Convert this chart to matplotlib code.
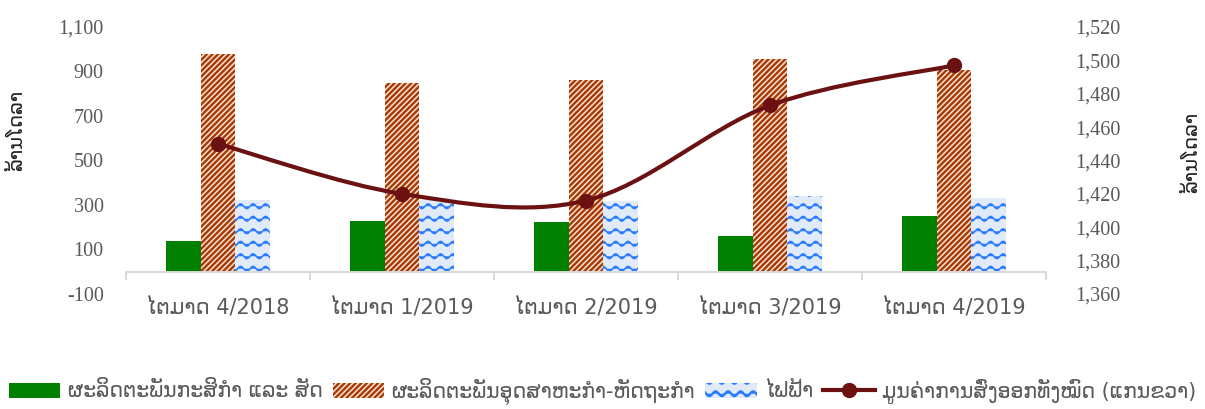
import warnings
import numpy as np
import matplotlib
matplotlib.use('Agg')
import matplotlib.pyplot as plt
import matplotlib.hatch as mhatch
from matplotlib.path import Path
from matplotlib.patches import PathPatch, Patch
from matplotlib.lines import Line2D
from matplotlib.ticker import FuncFormatter, FixedLocator

warnings.filterwarnings('ignore')

# data (millions USD)
quarters = ['ໄຕມາດ 4/2018', 'ໄຕມາດ 1/2019', 'ໄຕມາດ 2/2019', 'ໄຕມາດ 3/2019', 'ໄຕມາດ 4/2019']
agri = [138, 227, 222, 162, 249]
industry = [978, 848, 860, 958, 906]
electricity = [322, 322, 318, 340, 332]
exports_total = [1450, 1420, 1416, 1473, 1497]

series_names = ['ຜະລິດຕະພັນກະສິກຳ ແລະ ສັດ',
                'ຜະລິດຕະພັນອຸດສາຫະກຳ-ຫັດຖະກຳ',
                'ໄຟຟ້າ',
                'ມູນຄ່າການສົ່ງອອກທັງໝົດ (ແກນຂວາ)']
unit_label = 'ລ້ານໂດລາ'

GREY = '#595959'
LINE_C = '#6b1111'
GREEN = '#008000'
STRIPE_BG, STRIPE_FG = '#f8e1d8', '#a83a00'
WAVE_BG, WAVE_FG = '#e0eaf8', '#2a7bff'


# Excel-like "wave" fill pattern, registered as hatch '~'
class WaveHatch(mhatch.HatchPatternBase):
    def __init__(self, hatch, density):
        self.num_rows = hatch.count('~') * 8
        self.steps = 96
        self.num_vertices = self.num_rows * (self.steps + 1)

    def set_vertices_and_codes(self, vertices, codes):
        t = np.linspace(0, 1, self.steps + 1)
        for i in range(self.num_rows):
            s = slice(i * (self.steps + 1), (i + 1) * (self.steps + 1))
            vertices[s, 0] = t
            vertices[s, 1] = (i + 0.5) / self.num_rows + 0.024 * np.sin(2 * np.pi * 8 * t)
            codes[s] = Path.LINETO
            codes[i * (self.steps + 1)] = Path.MOVETO


mhatch._hatch_types.append(WaveHatch)

plt.rcParams['font.family'] = ['DejaVu Sans']
plt.rcParams['hatch.linewidth'] = 1.7


def thin_waves(patches):
    for p in patches:
        if hasattr(p, 'set_hatch_linewidth'):
            p.set_hatch_linewidth(1.1)


fig = plt.figure(figsize=(12.05, 4.09), dpi=100)
ax = fig.add_axes([126 / 1205, 115 / 409, 920 / 1205, 267 / 409])
ax2 = ax.twinx()

x = np.arange(len(quarters))
w = 0.19
ax.bar(x - w, agri, w, color=GREEN, zorder=2)
ax.bar(x, industry, w, facecolor=STRIPE_BG, edgecolor=STRIPE_FG, linewidth=0,
       hatch='//////', zorder=2)
wave_bars = ax.bar(x + w, electricity, w, facecolor=WAVE_BG, edgecolor=WAVE_FG, linewidth=0,
                   hatch='~', zorder=2)
thin_waves(wave_bars)

# smoothed line (Excel style bezier through the points)
pts = np.column_stack([x.astype(float), np.array(exports_total, float)])
n = len(pts)
verts = [pts[0]]
codes = [Path.MOVETO]
for i in range(n - 1):
    p0, p1 = pts[max(i - 1, 0)], pts[i]
    p2, p3 = pts[i + 1], pts[min(i + 2, n - 1)]
    verts += [p1 + (p2 - p0) / 6, p2 - (p3 - p1) / 6, p2]
    codes += [Path.CURVE4] * 3
ax2.add_patch(PathPatch(Path(verts, codes), facecolor='none', edgecolor=LINE_C,
                        lw=3, capstyle='round', zorder=3))
ax2.plot(x, exports_total, 'o', color=LINE_C, ms=10, zorder=4)

# axes setup
ax.set_xlim(-0.5, len(quarters) - 0.5)
ax.set_ylim(-100, 1100)
ax.set_yticks(range(-100, 1101, 200))
ax2.set_ylim(1360, 1520)
ax2.set_yticks(range(1360, 1521, 20))
fmt = FuncFormatter(lambda v, p: f'{v:,.0f}')
ax.yaxis.set_major_formatter(fmt)
ax2.yaxis.set_major_formatter(fmt)

for a in (ax, ax2):
    for s in a.spines.values():
        s.set_visible(False)
ax.spines['bottom'].set_visible(True)
ax.spines['bottom'].set_position(('data', 0))
ax.spines['bottom'].set_color('#d9d9d9')
ax.spines['bottom'].set_linewidth(1.4)

ax.set_xticks(x)
ax.set_xticklabels(quarters)
ax.xaxis.set_minor_locator(FixedLocator(np.arange(-0.5, len(quarters), 1.0)))
ax.tick_params(axis='x', which='major', length=0, pad=18, labelsize=15, labelcolor=GREY)
ax.tick_params(axis='x', which='minor', length=6, width=1.4, color='#d9d9d9', direction='out')

ax.tick_params(axis='y', length=0, pad=16, labelsize=14.5, labelcolor=GREY)
ax2.tick_params(axis='y', length=0, pad=21, labelsize=14.5, labelcolor=GREY)
for lab in ax.get_yticklabels() + ax2.get_yticklabels():
    lab.set_fontfamily('Liberation Serif')

fig.text(17 / 1205, 1 - 130 / 409, unit_label, rotation=90, ha='center', va='center',
         fontsize=14, color='#222222')
fig.text(1192 / 1205, 1 - 152 / 409, unit_label, rotation=90, ha='center', va='center',
         fontsize=14, color='#222222')

wave_handle = Patch(facecolor=WAVE_BG, edgecolor=WAVE_FG, linewidth=0, hatch='~')
thin_waves([wave_handle])
handles = [
    Patch(facecolor=GREEN),
    Patch(facecolor=STRIPE_BG, edgecolor=STRIPE_FG, linewidth=0, hatch='//////'),
    wave_handle,
    Line2D([], [], color=LINE_C, lw=3, marker='o', ms=10),
]
fig.legend(handles, series_names, loc='center', bbox_to_anchor=(0.5, 1 - 391 / 409),
           ncol=4, frameon=False, fontsize=14.8, labelcolor=GREY, handlelength=2.5,
           handleheight=0.78, handletextpad=0.35, columnspacing=0.5)

fig.savefig('out.png', dpi=100)
